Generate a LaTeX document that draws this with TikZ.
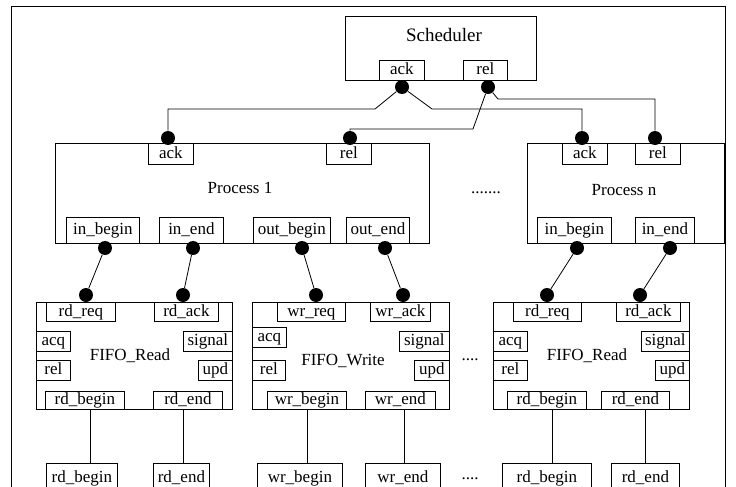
\documentclass[tikz,border=0pt]{standalone}
\usepackage{fontspec}
\setmainfont{Liberation Serif}
\usetikzlibrary{positioning}

\begin{document}
\begin{tikzpicture}[
            x = 1pt, y = -1pt, % pixel units, y going down
            line width = 0.8pt, % line style
            every node/.style = {font = \fontsize{17pt}{20pt}\selectfont}
        ]

        \tikzstyle{box}=[
            draw = black,
            anchor = north west,
            inner sep = 0pt
        ]
        \tikzstyle{port}=[
            box,
            fill = white,
            text height = 12.5pt,
            text depth = 4pt
        ]
        \tikzstyle{dot}=[
            circle,
            fill = black,
            inner sep = 0pt,
            minimum size = 14pt
        ]

        \useasboundingbox (0,0) rectangle (736,487);
        \clip (0,0) rectangle (736,487);

        % outer frame
        \node[box, minimum width=714pt, minimum height=500pt] (frame) at (11,6) {};

        % scheduler
        \node[box, minimum width=191pt, minimum height=64pt] (sched) at (345,16) {};
        \node[font=\fontsize{19pt}{22pt}\selectfont] (schedtxt) at (444,35) {Scheduler};
        \node[port, minimum width=45pt, minimum height=20pt] (sack) at (379,60) {ack};
        \node[port, minimum width=44pt, minimum height=20pt] (srel) at (463,60) {rel};

        % process 1
        \node[box, minimum width=374pt, minimum height=100pt] (p1) at (55,143) {};
        \node (p1txt) at (240,188) {Process 1};
        \node[port, minimum width=45pt, minimum height=21pt] (p1ack) at (148,143) {ack};
        \node[port, minimum width=45pt, minimum height=21pt] (p1rel) at (326,143) {rel};
        \node[port, minimum width=73pt, minimum height=26pt] (p1inb) at (66,217) {in\_begin};
        \node[port, minimum width=64pt, minimum height=26pt] (p1ine) at (159,217) {in\_end};
        \node[port, minimum width=77pt, minimum height=26pt] (p1outb) at (253,217) {out\_begin};
        \node[port, minimum width=63pt, minimum height=26pt] (p1oute) at (346,217) {out\_end};

        \node (pdots) at (486,193) {.......};

        % process n
        \node[box, minimum width=197pt, minimum height=100pt] (pn) at (527,143) {};
        \node (pntxt) at (624,190) {Process n};
        \node[port, minimum width=45pt, minimum height=21pt] (pnack) at (562,143) {ack};
        \node[port, minimum width=45pt, minimum height=21pt] (pnrel) at (635,143) {rel};
        \node[port, minimum width=74pt, minimum height=26pt] (pninb) at (537,217) {in\_begin};
        \node[port, minimum width=59pt, minimum height=26pt] (pnine) at (635,217) {in\_end};

        % fifo read 1
        \node[box, minimum width=196pt, minimum height=107pt] (fr1) at (36,302) {};
        \node (fr1txt) at (130,356) {FIFO\_Read};
        \node[port, minimum width=69pt, minimum height=19pt] (fr1req) at (46,302) {rd\_req};
        \node[port, minimum width=64pt, minimum height=19pt] (fr1ack) at (154,302) {rd\_ack};
        \node[port, minimum width=34pt, minimum height=20pt] (fr1acq) at (36,331) {acq};
        \node[port, minimum width=34pt, minimum height=20pt] (fr1rel) at (36,360) {rel};
        \node[port, minimum width=49pt, minimum height=20pt] (fr1sig) at (183,331) {signal};
        \node[port, minimum width=34pt, minimum height=20pt] (fr1upd) at (198,360) {upd};
        \node[port, minimum width=79pt, minimum height=18pt] (fr1beg) at (45,391) {rd\_begin};
        \node[port, minimum width=69pt, minimum height=18pt] (fr1end) at (153,391) {rd\_end};

        % fifo write
        \node[box, minimum width=197pt, minimum height=107pt] (fw) at (252,302) {};
        \node (fwtxt) at (343,361) {FIFO\_Write};
        \node[port, minimum width=68pt, minimum height=19pt] (fwreq) at (277,302) {wr\_req};
        \node[port, minimum width=60pt, minimum height=19pt] (fwack) at (370,302) {wr\_ack};
        \node[port, minimum width=34pt, minimum height=20pt] (fwacq) at (252,327) {acq};
        \node[port, minimum width=33pt, minimum height=20pt] (fwrel) at (252,360) {rel};
        \node[port, minimum width=50pt, minimum height=20pt] (fwsig) at (399,331) {signal};
        \node[port, minimum width=35pt, minimum height=20pt] (fwupd) at (414,360) {upd};
        \node[port, minimum width=79pt, minimum height=18pt] (fwbeg) at (267,391) {wr\_begin};
        \node[port, minimum width=70pt, minimum height=18pt] (fwend) at (365,391) {wr\_end};

        \node (fdots) at (470,360) {....};

        % fifo read 2
        \node[box, minimum width=196pt, minimum height=107pt] (fr2) at (493,302) {};
        \node (fr2txt) at (587,356) {FIFO\_Read};
        \node[port, minimum width=68pt, minimum height=19pt] (fr2req) at (513,302) {rd\_req};
        \node[port, minimum width=64pt, minimum height=19pt] (fr2ack) at (616,302) {rd\_ack};
        \node[port, minimum width=34pt, minimum height=20pt] (fr2acq) at (493,331) {acq};
        \node[port, minimum width=34pt, minimum height=20pt] (fr2rel) at (493,360) {rel};
        \node[port, minimum width=48pt, minimum height=20pt] (fr2sig) at (641,331) {signal};
        \node[port, minimum width=34pt, minimum height=20pt] (fr2upd) at (655,360) {upd};
        \node[port, minimum width=79pt, minimum height=18pt] (fr2beg) at (507,391) {rd\_begin};
        \node[port, minimum width=68pt, minimum height=18pt] (fr2end) at (601,391) {rd\_end};

        % signals at the bottom
        \node[port, minimum width=71pt, minimum height=30pt] (sigrb1) at (46,463) {rd\_begin};
        \node[port, minimum width=56pt, minimum height=30pt] (sigre1) at (153,463) {rd\_end};
        \node[port, minimum width=85pt, minimum height=30pt] (sigwb) at (257,463) {wr\_begin};
        \node[port, minimum width=75pt, minimum height=30pt] (sigwe) at (365,463) {wr\_end};
        \node (sdots) at (470,479) {....};
        \node[port, minimum width=89pt, minimum height=30pt] (sigrb2) at (502,463) {rd\_begin};
        \node[port, minimum width=68pt, minimum height=30pt] (sigre2) at (611,463) {rd\_end};

        % binding points
        \node[dot] (sackd) at (402,87) {};
        \node[dot] (sreld) at (488,87) {};
        \node[dot] (p1ackd) at (168,138) {};
        \node[dot] (p1reld) at (350,138) {};
        \node[dot] (pnackd) at (582,138) {};
        \node[dot] (pnreld) at (655,138) {};
        \node[dot] (p1inbd) at (105,248) {};
        \node[dot] (p1ined) at (193,248) {};
        \node[dot] (p1outbd) at (302,248) {};
        \node[dot] (p1outed) at (385,248) {};
        \node[dot] (pninbd) at (577,248) {};
        \node[dot] (pnined) at (670,248) {};
        \node[dot] (fr1reqd) at (86,295) {};
        \node[dot] (fr1ackd) at (183,295) {};
        \node[dot] (fwreqd) at (316,295) {};
        \node[dot] (fwackd) at (403,295) {};
        \node[dot] (fr2reqd) at (547,295) {};
        \node[dot] (fr2ackd) at (640,295) {};

        \draw (sackd) -- ++(-27,22) -| (p1ackd);
        \draw (sackd) -- ++(30,22) -| (pnackd);
        \draw (sreld) -- ++(-15,42) -| (p1reld);
        \draw (sreld) -- ++(10,12) -| (pnreld);

        \path (p1inbd) edge (fr1reqd);
        \path (p1ined) edge (fr1ackd);
        \path (p1outbd) edge (fwreqd);
        \path (p1outed) edge (fwackd);
        \path (pninbd) edge (fr2reqd);
        \path (pnined) edge (fr2ackd);

        \draw ([xshift=5.5pt]fr1beg.south) -- ++(0,54);
        \draw ([xshift=-4.5pt]fr1end.south) -- ++(0,54);
        \draw (fwbeg.south) -- ++(0,54);
        \draw ([xshift=4pt]fwend.south) -- ++(0,54);
        \draw ([xshift=5.5pt]fr2beg.south) -- ++(0,54);
        \draw ([xshift=10pt]fr2end.south) -- ++(0,54);

        %\draw[red] (0,0) grid (736,487);
    \end{tikzpicture}
\end{document}
